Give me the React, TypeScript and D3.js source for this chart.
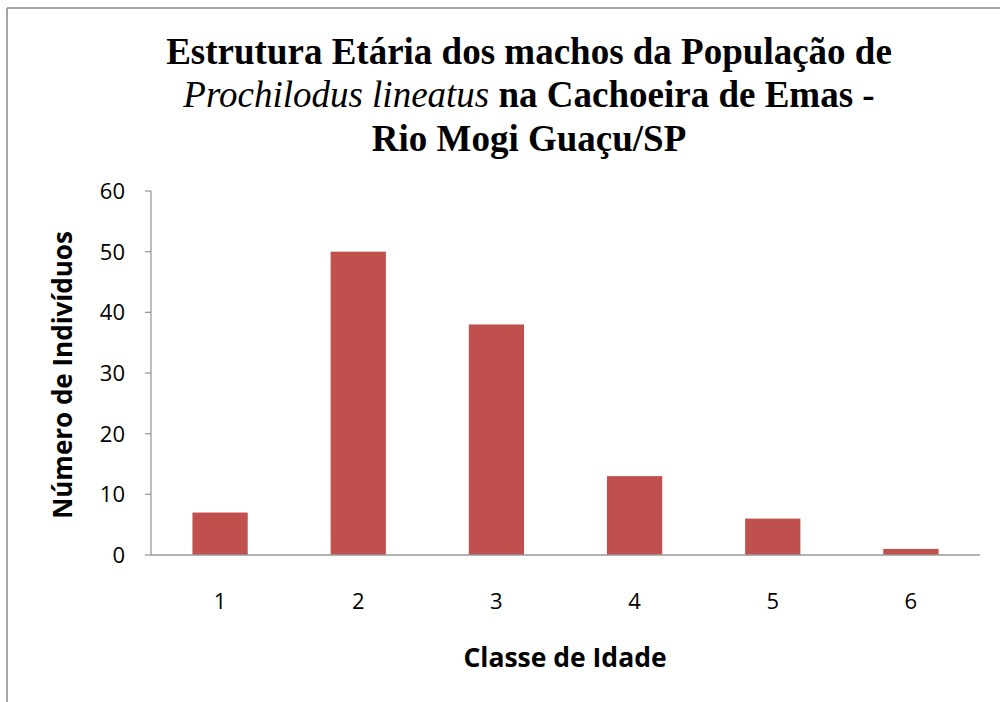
import React from "react";
import * as d3 from "d3";

const categories = ["1", "2", "3", "4", "5", "6"];
const values = [7, 50, 38, 13, 6, 1];
const yTicks = [0, 10, 20, 30, 40, 50, 60];

export default function App() {
  const W = 1000, H = 702;
  const left = 151, right = 980, top = 191, bottom = 555;
  const x = d3.scaleBand().domain(categories).range([left, right]).paddingInner(0.6).paddingOuter(0.3);
  const xc = d3.scaleBand().domain(categories).range([left, right]);
  const y = d3.scaleLinear().domain([0, 60]).range([bottom, top]);
  const sans = "Open Sans, Noto Sans, sans-serif";
  return (
    <svg width={W} height={H} style={{ position: "absolute", left: 0, top: 0, background: "#fff" }}>
      <rect x={0} y={0} width={W} height={H} fill="#fff" />
      <line x1={7} y1={8} x2={W} y2={8} stroke="#888" strokeWidth={1.5} />
      <line x1={7} y1={8} x2={7} y2={H} stroke="#888" strokeWidth={1.5} />
      <g fontFamily="Liberation Serif, Times New Roman, serif" fontWeight="bold" fontSize={37} textAnchor="middle" fill="#000">
        <text x={529} y={64}>Estrutura Etária dos machos da População de</text>
        <text x={529} y={107}>
          <tspan fontStyle="italic" fontWeight="normal">Prochilodus lineatus</tspan> na Cachoeira de Emas -
        </text>
        <text x={529} y={151}>Rio Mogi Guaçu/SP</text>
      </g>
      {values.map((v, i) => (
        <rect key={i} x={x(categories[i])!} width={x.bandwidth()} y={y(v)} height={y(0) - y(v)} fill="#C0504D" />
      ))}
      <line x1={left} y1={top} x2={left} y2={bottom} stroke="#999" strokeWidth={1.3} />
      <line x1={left} y1={bottom} x2={right} y2={bottom} stroke="#999" strokeWidth={1.3} />
      {yTicks.map((t) => (
        <g key={t}>
          <line x1={left - 6} x2={left} y1={y(t)} y2={y(t)} stroke="#999" strokeWidth={1.3} />
          <text x={125} y={y(t) + 8} textAnchor="end" fontFamily={sans} fontSize={22} fill="#000">{t}</text>
        </g>
      ))}
      {categories.map((c) => (
        <text key={c} x={xc(c)! + xc.bandwidth() / 2} y={609} textAnchor="middle" fontFamily={sans} fontSize={22} fill="#000">{c}</text>
      ))}
      <text x={565} y={667} textAnchor="middle" fontFamily={sans} fontWeight="bold" fontSize={26.5} fill="#000">Classe de Idade</text>
      <text transform="translate(72,375) rotate(-90)" textAnchor="middle" fontFamily={sans} fontWeight="bold" fontSize={26} fill="#000">Número de Indivíduos</text>
    </svg>
  );
}
